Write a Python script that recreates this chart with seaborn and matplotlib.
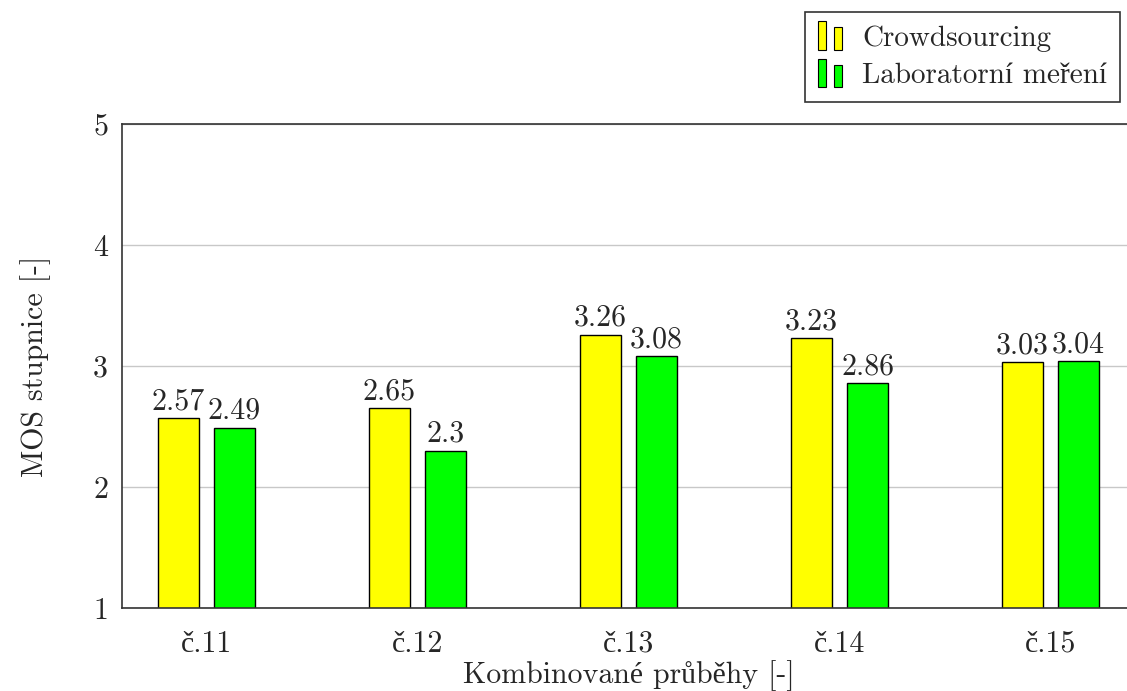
import matplotlib
matplotlib.use("Agg")
import matplotlib.pyplot as plt
from matplotlib.legend_handler import HandlerBase
from matplotlib.patches import Rectangle
import seaborn as sns
import pandas as pd

# data
categories = ["č.11", "č.12", "č.13", "č.14", "č.15"]
crowd = [2.57, 2.65, 3.26, 3.23, 3.03]
lab = [2.49, 2.30, 3.08, 2.86, 3.04]
series_names = ["Crowdsourcing", "Laboratorní meření"]
colors = ["#FFFF00", "#00FF00"]

df = pd.DataFrame({
    "kategorie": categories * 2,
    "MOS": crowd + lab,
    "serie": [series_names[0]] * len(categories) + [series_names[1]] * len(categories),
})


class TwoBarHandler(HandlerBase):
    # pgfplots-style ybar legend image: two small bars
    def create_artists(self, legend, orig_handle, xdescent, ydescent,
                       width, height, fontsize, trans):
        fc = orig_handle.get_facecolor()
        w = width * 0.24
        r1 = Rectangle((-xdescent, -ydescent - height * 0.2), w, height * 1.4,
                       facecolor=fc, edgecolor="black", linewidth=0.8, transform=trans)
        r2 = Rectangle((-xdescent + w * 2.0, -ydescent - height * 0.2), w, height * 1.1,
                       facecolor=fc, edgecolor="black", linewidth=0.8, transform=trans)
        return [r1, r2]


FS = 21.5

sns.set_style("white")
plt.rcParams["font.family"] = ["cmr10", "Liberation Serif"]
plt.rcParams["mathtext.fontset"] = "cm"
plt.rcParams["axes.formatter.use_mathtext"] = True

fig = plt.figure(figsize=(11.27, 6.91), dpi=100)
ax = fig.add_axes([122 / 1127, 1 - 608 / 691, (1135 - 122) / 1127, (608 - 124) / 691])

sns.barplot(data=df, x="kategorie", y="MOS", hue="serie", hue_order=series_names,
            palette=colors, width=0.53, gap=0.28, edgecolor="black", linewidth=1,
            saturation=1, ax=ax, legend=False)

for cont in ax.containers:
    ax.bar_label(cont, fmt="%g", padding=2, fontsize=FS)

ax.set_ylim(1, 5)
ax.set_xlim(-0.4, 4.4)
ax.set_yticks([1, 2, 3, 4, 5])
ax.set_yticklabels(["1", "2", "3", "4", "5"])
ax.yaxis.grid(True, color="#c8c8c8", linewidth=1)
ax.set_axisbelow(True)
ax.tick_params(axis="y", labelsize=FS, length=0, pad=10)
ax.tick_params(axis="x", labelsize=FS, length=0, pad=16)
for sp in ax.spines.values():
    sp.set_color("#333333")
    sp.set_linewidth(1.2)

ax.set_xlabel("Kombinované průběhy [-]", fontsize=FS, labelpad=2)
ax.set_ylabel("MOS stupnice [-]", fontsize=FS, labelpad=30)

handles = [Rectangle((0, 0), 1, 1, facecolor=c, edgecolor="black") for c in colors]
leg = fig.legend(handles, series_names, loc="upper left",
                 bbox_to_anchor=(805 / 1127, 1 - 12 / 691),
                 handler_map={Rectangle: TwoBarHandler()},
                 fontsize=21, frameon=True, fancybox=False, framealpha=1,
                 edgecolor="#333333", borderpad=0.45, labelspacing=0.38,
                 handlelength=1.15, handletextpad=0.35, borderaxespad=0)
leg.get_frame().set_linewidth(1.2)

fig.savefig("out.png", dpi=100)
